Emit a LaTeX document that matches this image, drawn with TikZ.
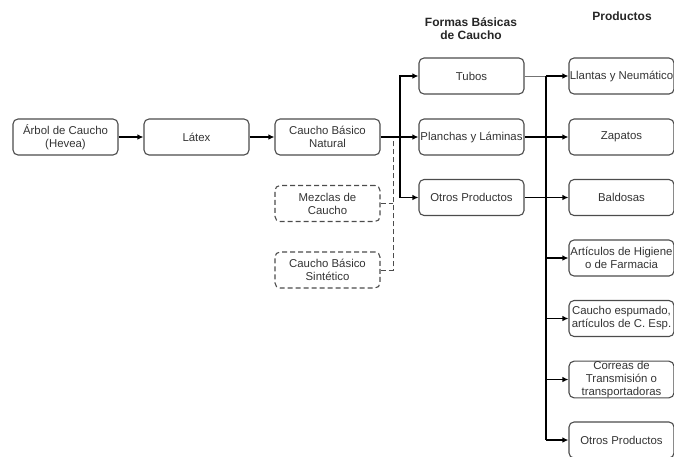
\documentclass[tikz,border=0pt]{standalone}
\usepackage{fontspec}
\setmainfont{Liberation Sans}
\usetikzlibrary{arrows.meta}
\begin{document}
\begin{tikzpicture}[x=1pt,y=-1pt,
 box/.style={draw=black!70, line width=1.1pt, rounded corners=5pt, minimum width=105pt, minimum height=36pt, inner sep=0pt, align=center, text=black!80, font=\fontsize{11.4}{13}\selectfont},
 dbox/.style={box, dash pattern=on 5pt off 3pt},
 conn/.style={line width=1.2pt, -{Latex[length=6pt,width=5.5pt]}},
 dconn/.style={line width=1pt, draw=black!70, dash pattern=on 5pt off 3pt},
 thin/.style={line width=0.7pt, draw=black!55},
 hdr/.style={font=\fontsize{12}{13}\selectfont\bfseries, align=center, text=black!85}]
\useasboundingbox (0,0) rectangle (674,456);
% headers
\node[hdr] (hforms) at (471,29) {Formas Básicas\\de Caucho};
\node[hdr] (hprod) at (622,16) {Productos};
% left chain
\node[box] (arbol) at (65.5,137) {Árbol de Caucho\\(Hevea)};
\node[box] (latex) at (196.5,137) {Látex};
\node[box] (natural) at (327.5,137) {Caucho Básico\\Natural};
\node[dbox] (mezclas) at (327.5,203.5) {Mezclas de\\Caucho};
\node[dbox] (sint) at (327.5,270) {Caucho Básico\\Sintético};
% forms
\node[box] (tubos) at (471.5,76) {Tubos};
\node[box] (planchas) at (471.5,137) {Planchas y Láminas};
\node[box] (otrosf) at (471.5,197.5) {Otros Productos};
% products
\node[box] (llantas) at (621.5,76) {Llantas y Neumático};
\node[box] (zapatos) at (621.5,137) {Zapatos};
\node[box] (baldosas) at (621.5,197.5) {Baldosas};
\node[box] (higiene) at (621.5,258) {Artículos de Higiene\\o de Farmacia};
\node[box] (espumado) at (621.5,318.5) {Caucho espumado,\\artículos de C. Esp.};
\node[box] (correas) at (621.5,379.5) {Correas de\\Transmisión o\\transportadoras};
\node[box] (otrosp) at (621.5,440) {Otros Productos};
% connectors
\draw[conn] (arbol) -- (latex);
\draw[conn] (latex) -- (natural);
\coordinate (j1) at (400,137);
\coordinate (d1) at (393,137);
\draw[dconn] (mezclas.east) -- (mezclas.east -| d1);
\draw[dconn] (sint.east) -| (d1);
\draw[conn] (natural.east) -- (planchas.west);
\draw[conn] (j1) |- (tubos.west);
\draw[conn] (j1) |- (otrosf.west);
\coordinate (bt) at (546,76);
\coordinate (bb) at (546,440);
\draw[thin] (tubos.east) -- (bt);
\draw[line width=1.2pt] (bt) -- (bb);
\draw[conn] (bt) -- (llantas.west);
\draw[conn] (planchas.east) -- (zapatos.west);
\draw[conn] (otrosf.east) -- (baldosas.west);
\draw[conn] (higiene.west -| bt) -- (higiene.west);
\draw[conn] (espumado.west -| bt) -- (espumado.west);
\draw[conn] (correas.west -| bt) -- (correas.west);
\draw[conn] (bb) -- (otrosp.west);
\end{tikzpicture}
\end{document}
